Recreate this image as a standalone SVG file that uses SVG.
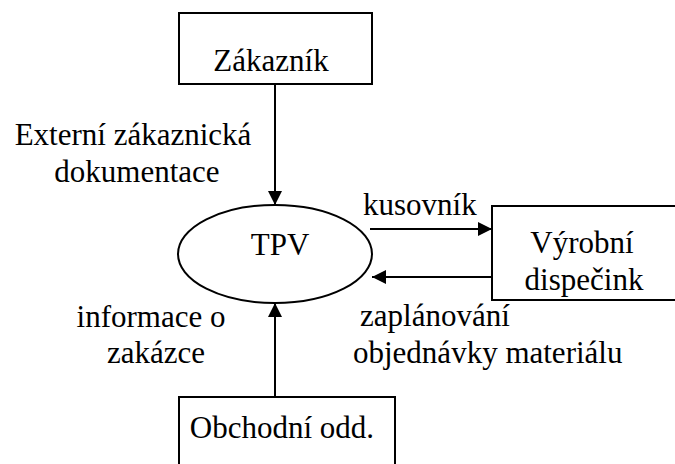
<svg xmlns="http://www.w3.org/2000/svg" width="675" height="464" viewBox="0 0 675 464">
  <style>
    .box { fill: #fff; stroke: #000; stroke-width: 2; }
    .edge { fill: none; stroke: #000; stroke-width: 2; }
    .t { font-family: 'Liberation Serif', 'Times New Roman', serif; font-size: 31px; fill: #000; }
    .c { text-anchor: middle; }
  </style>
  <defs>
    <marker id="arrow" viewBox="0 0 14 14" refX="14" refY="7" markerWidth="14" markerHeight="14" markerUnits="userSpaceOnUse" orient="auto">
      <path d="M0,0 L14,7 L0,14 Z" fill="#000"/>
    </marker>
  </defs>
  <rect width="675" height="464" fill="#fff"/>

  <g id="connectors">
    <line class="edge" x1="275" y1="84" x2="275" y2="205" marker-end="url(#arrow)"/>
    <line class="edge" x1="275" y1="397" x2="275" y2="303" marker-end="url(#arrow)"/>
    <line class="edge" x1="370" y1="229" x2="492" y2="229" marker-end="url(#arrow)"/>
    <line class="edge" x1="492" y1="277" x2="372" y2="277" marker-end="url(#arrow)"/>
    <text x="133" y="145" class="t c">Externí zákaznická</text>
    <text x="137" y="182" class="t c">dokumentace</text>
    <text x="151" y="327" class="t c">informace o</text>
    <text x="156" y="363" class="t c">zakázce</text>
    <text x="363" y="215" class="t">kusovník</text>
    <text x="360" y="326" class="t">zaplánování</text>
    <text x="353" y="363" class="t">objednávky materiálu</text>
  </g>

  <g id="zakaznik">
    <rect class="box" x="179" y="13" width="193" height="71"/>
    <text x="271" y="71" class="t c">Zákazník</text>
  </g>

  <g id="tpv">
    <ellipse class="box" cx="275" cy="254" rx="97" ry="49"/>
    <text x="280" y="255" class="t c">TPV</text>
  </g>

  <g id="vyrobni-dispecink">
    <rect class="box" x="492" y="206" width="190" height="94"/>
    <text x="582" y="253" class="t c">Výrobní</text>
    <text x="584" y="290" class="t c">dispečink</text>
  </g>

  <g id="obchodni-odd">
    <rect class="box" x="179" y="397" width="216" height="75"/>
    <text x="282" y="438" class="t c">Obchodní odd.</text>
  </g>
</svg>
